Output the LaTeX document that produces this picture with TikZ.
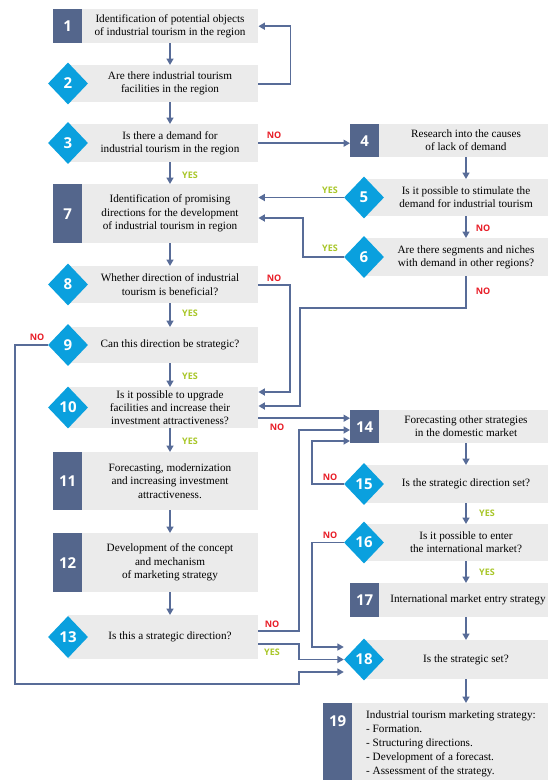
\documentclass[tikz,border=0pt]{standalone}
\usepackage{fontspec}
\setmainfont{Liberation Serif}
\newfontfamily\numfont{Open Sans}
\usetikzlibrary{shapes.geometric,arrows.meta}
\definecolor{boxgray}{RGB}{235,235,235}
\definecolor{darkbox}{RGB}{84,102,140}
\definecolor{diacol}{RGB}{10,160,222}
\definecolor{linecol}{RGB}{88,108,152}
\definecolor{nored}{RGB}{232,30,40}
\definecolor{yesgreen}{RGB}{168,198,40}
\begin{document}
\begin{tikzpicture}[x=1pt,y=-1pt,
  gbox/.style={rectangle,fill=boxgray,draw=none,inner sep=0pt,anchor=north west},
  nbox/.style={rectangle,fill=darkbox,draw=none,inner sep=0pt,anchor=north west,minimum width=29pt,text=white,font=\numfont\bfseries\fontsize{15}{15}\selectfont},
  numtxt/.style={text=white,font=\numfont\bfseries\fontsize{15}{15}\selectfont,inner sep=0pt},
  dia/.style={diamond,fill=diacol,draw=none,inner sep=0pt,minimum width=40pt,minimum height=42pt,text=white,font=\numfont\bfseries\fontsize{15}{15}\selectfont},
  txt/.style={align=center,inner sep=0pt,font=\fontsize{11.2}{13.3}\selectfont},
  nolab/.style={text=nored,inner sep=0pt,font=\numfont\bfseries\fontsize{9}{9}\selectfont},
  yeslab/.style={text=yesgreen,inner sep=0pt,font=\numfont\bfseries\fontsize{9}{9}\selectfont},
  arr/.style={draw=linecol,line width=1.6pt,-{Triangle[length=6.5pt,width=7pt]}}
]
\useasboundingbox (0,0) rectangle (548,780);

% ---------- left column ----------
\node[gbox,minimum width=205pt,minimum height=34pt] (g1) at (53,9) {};
\node[nbox,minimum height=34pt] (n1) at (53,9) {1};
\node[txt] (t1) at (170,26) {Identification of potential objects\\of industrial tourism in the region};

\node[gbox,minimum width=190pt,minimum height=37pt] (g2) at (68,65) {};
\node[dia] (d2) at (68,83.5) {2};
\node[txt] (t2) at (170,83.5) {Are there industrial tourism\\facilities in the region};

\node[gbox,minimum width=190pt,minimum height=38pt] (g3) at (68,124) {};
\node[dia] (d3) at (68,143) {3};
\node[txt] (t3) at (170,143) {Is there a demand for\\industrial tourism in the region};

\node[gbox,minimum width=205pt,minimum height=59pt] (g7) at (53,184) {};
\node[nbox,minimum height=59pt] (n7) at (53,184) {7};
\node[txt] (t7) at (170,213.5) {Identification of promising\\directions for the development\\of industrial tourism in region};

\node[gbox,minimum width=190pt,minimum height=37pt] (g8) at (68,266) {};
\node[dia] (d8) at (68,284.5) {8};
\node[txt] (t8) at (170,284.5) {Whether direction of industrial\\tourism is beneficial?};

\node[gbox,minimum width=190pt,minimum height=36pt] (g9) at (68,327) {};
\node[dia] (d9) at (68,345) {9};
\node[txt] (t9) at (170,345) {Can this direction be strategic?};

\node[gbox,minimum width=190pt,minimum height=41pt] (g10) at (68,387) {};
\node[dia] (d10) at (68,407.5) {10};
\node[txt] (t10) at (170,407.5) {Is it possible to upgrade\\facilities and increase their\\investment attractiveness?};

\node[gbox,minimum width=205pt,minimum height=58pt] (g11) at (53,452) {};
\node[nbox,minimum height=58pt] (n11) at (53,452) {11};
\node[txt] (t11) at (170,481) {Forecasting, modernization\\and increasing investment\\attractiveness.};

\node[gbox,minimum width=205pt,minimum height=59pt] (g12) at (53,533) {};
\node[nbox,minimum height=59pt] (n12) at (53,533) {12};
\node[txt] (t12) at (170,562.5) {Development of the concept\\and mechanism\\of marketing strategy};

\node[gbox,minimum width=190pt,minimum height=44pt] (g13) at (68,615) {};
\node[dia] (d13) at (68,637) {13};
\node[txt] (t13) at (170,637) {Is this a strategic direction?};

% ---------- right column ----------
\node[gbox,minimum width=198pt,minimum height=33pt] (g4) at (350,124) {};
\node[nbox,minimum height=33pt] (n4) at (350,124) {4};
\node[txt] (t4) at (466,140.5) {Research into the causes\\of lack of demand};

\node[gbox,minimum width=184pt,minimum height=37pt] (g5) at (364,179) {};
\node[dia] (d5) at (364,197.5) {5};
\node[txt] (t5) at (466,197.5) {Is it possible to stimulate the\\demand for industrial tourism};

\node[gbox,minimum width=184pt,minimum height=38pt] (g6) at (364,238) {};
\node[dia] (d6) at (364,257) {6};
\node[txt] (t6) at (466,257) {Are there segments and niches\\with demand in other regions?};

\node[gbox,minimum width=198pt,minimum height=33pt] (g14) at (350,410) {};
\node[nbox,minimum height=33pt] (n14) at (350,410) {14};
\node[txt] (t14) at (466,426.5) {Forecasting other strategies\\in the domestic market};

\node[gbox,minimum width=184pt,minimum height=38pt] (g15) at (364,465) {};
\node[dia] (d15) at (364,484) {15};
\node[txt] (t15) at (466,484) {Is the strategic direction set?};

\node[gbox,minimum width=184pt,minimum height=37pt] (g16) at (364,524) {};
\node[dia] (d16) at (364,542.5) {16};
\node[txt] (t16) at (466,542.5) {Is it possible to enter\\the international market?};

\node[gbox,minimum width=198pt,minimum height=34pt] (g17) at (350,583) {};
\node[nbox,minimum height=34pt] (n17) at (350,583) {17};
\node[txt] (t17) at (468,600) {International market entry strategy};

\node[gbox,minimum width=184pt,minimum height=39pt] (g18) at (364,640) {};
\node[dia] (d18) at (364,659.5) {18};
\node[txt] (t18) at (466,659.5) {Is the strategic set?};

\node[gbox,minimum width=225pt,minimum height=77pt] (g19) at (323,703) {};
\node[nbox,minimum height=77pt] (n19) at (323,703) {};
\node[numtxt] (l19) at ([yshift=-18pt]n19.north) {19};
\node[txt,align=left,anchor=north west,font=\fontsize{11.2}{14}\selectfont] (t19) at (366,711) {Industrial tourism marketing strategy:\\- Formation.\\- Structuring directions.\\- Development of a forecast.\\- Assessment of the strategy.};

% ---------- connectors ----------
\draw[arr] (g1.south -| t1) -- (g2.north -| t1);
\draw[arr] (g2.east) -- ++(32,0) |- (g1.east);
\draw[arr] (g2.south -| t2) -- (g3.north -| t2);
\draw[arr] (g3.east) -- (g3.east -| n4.west);
\draw[arr] (g3.south -| t3) -- (g7.north -| t3);
\draw[arr] (g4.south -| t4) -- (g5.north -| t4);
\draw[arr] (d5.west) -- (d5.west -| g7.east);
\draw[arr] (g5.south -| t5) -- (g6.north -| t5);
\coordinate (k6) at (303,218);
\draw[arr] (d6.west) -| (k6) -- (k6 -| g7.east);
\coordinate (k6a) at (300,308);
\coordinate (k10b) at (300,406);
\draw[arr] (g6.south -| t6) |- (k6a) -- (k10b) -- (k10b -| g10.east);
\draw[arr] (g7.south -| t7) -- (g8.north -| t7);
\coordinate (k10a) at (290,392);
\draw[arr] (g8.east) -| (k10a) -- (k10a -| g10.east);
\draw[arr] (g8.south -| t8) -- (g9.north -| t8);
\coordinate (k9a) at (15,684);
\coordinate (k9b) at (299,672);
\draw[arr] (d9.west) -| (k9a) -| (k9b) -- (k9b -| d18.west);
\draw[arr] (g9.south -| t9) -- (g10.north -| t9);
\draw[arr] ([yshift=-10.5pt]g10.east) -- ([yshift=-10.5pt]g10.east -| n14.west);
\draw[arr] (g10.south -| t10) -- (g11.north -| t10);
\draw[arr] (g11.south -| t11) -- (g12.north -| t11);
\draw[arr] (g12.south -| t12) -- (g13.north -| t12);
\coordinate (k13) at (299,430);
\draw[arr] ([yshift=6pt]g13.east) -| (k13) -- (k13 -| n14.west);
\coordinate (k13y) at (299,659.5);
\draw[arr] ([yshift=-7pt]g13.east) -| (k13y) -- (d18.west);
\draw[arr] (g14.south -| t14) -- (g15.north -| t14);
\coordinate (k15) at (312,441);
\draw[arr] (d15.west) -| (k15) -- (k15 -| n14.west);
\draw[arr] (g15.south -| t15) -- (g16.north -| t15);
\coordinate (k16) at (312,647);
\draw[arr] (d16.west) -| (k16) -- (k16 -| d18.west);
\draw[arr] (g16.south -| t16) -- (g17.north -| t16);
\draw[arr] (g17.south -| t16) -- (g18.north -| t16);
\draw[arr] (g18.south -| t18) -- (g19.north -| t18);

% ---------- labels ----------
\node[nolab] (no3) at (274,135) {NO};
\node[yeslab] (yes3) at (190,175) {YES};
\node[yeslab] (yes5) at (330,190) {YES};
\node[nolab] (no5) at (483,228) {NO};
\node[yeslab] (yes6) at (330,248) {YES};
\node[nolab] (no6) at (483,291) {NO};
\node[nolab] (no8) at (274,278) {NO};
\node[yeslab] (yes8) at (190,313) {YES};
\node[nolab] (no9) at (37,337) {NO};
\node[yeslab] (yes9) at (190,376) {YES};
\node[nolab] (no10) at (277,427) {NO};
\node[yeslab] (yes10) at (190,441) {YES};
\node[nolab] (no13) at (272,624) {NO};
\node[yeslab] (yes13) at (272,652) {YES};
\node[nolab] (no15) at (330,477) {NO};
\node[yeslab] (yes15) at (487,513) {YES};
\node[nolab] (no16) at (330,535) {NO};
\node[yeslab] (yes16) at (487,572) {YES};
\end{tikzpicture}
\end{document}
